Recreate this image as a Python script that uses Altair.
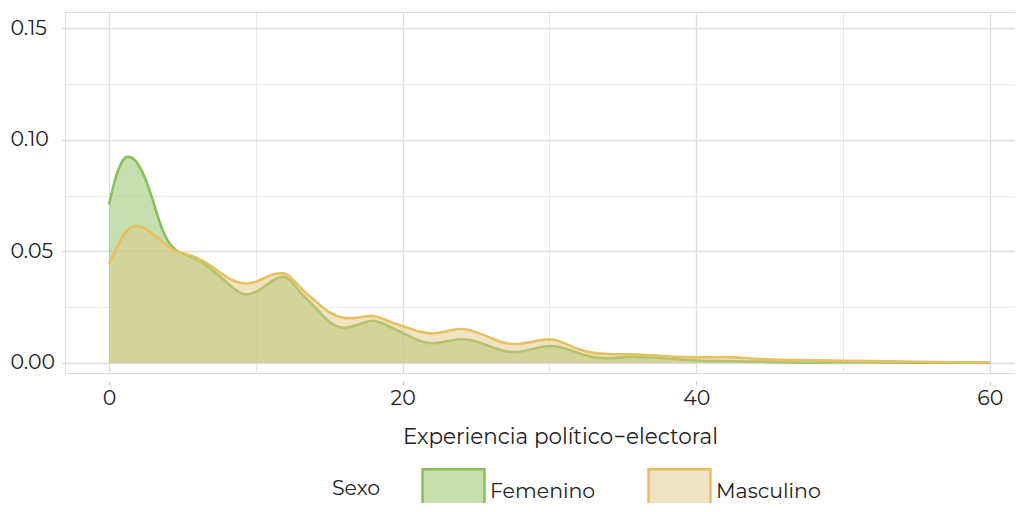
import altair as alt
import pandas as pd

fem_x = [0, 0.5, 1, 1.3, 1.6, 2, 2.5, 3, 3.5, 4, 4.5, 5, 6, 7, 8, 9, 10, 11, 11.7, 12.3, 13, 14, 15, 16, 17, 18, 19, 20, 21, 22, 23, 24, 25, 26, 27, 28, 29, 30, 31, 32, 33, 34, 35, 36, 38, 40, 42, 44, 46, 48, 50, 52, 55, 58, 60]
fem_y = [0.071, 0.084, 0.0912, 0.0923, 0.0917, 0.0888, 0.082, 0.0725, 0.0622, 0.0548, 0.0508, 0.049, 0.0462, 0.0418, 0.0362, 0.0312, 0.0318, 0.0362, 0.0385, 0.0372, 0.0318, 0.0252, 0.0185, 0.0158, 0.0172, 0.0189, 0.0166, 0.0135, 0.0103, 0.0088, 0.0097, 0.0106, 0.0096, 0.0073, 0.0053, 0.005, 0.0064, 0.0076, 0.0066, 0.0043, 0.0026, 0.0021, 0.0025, 0.0027, 0.002, 0.0011, 0.0008, 0.0006, 0.0003, 0.0002, 0.0003, 0.0003, 0.0001, 0.0001, 0.0001]

masc_x = [0, 0.5, 1, 1.5, 1.8, 2.2, 2.7, 3.2, 3.7, 4.2, 4.7, 5.2, 6, 7, 8, 9, 10, 11, 11.6, 12.2, 13, 14, 15, 16, 17, 18, 19, 20, 21, 22, 23, 24, 25, 26, 27, 28, 29, 30, 31, 32, 33, 34, 35, 36, 38, 40, 42, 44, 46, 48, 50, 52, 55, 58, 60]
masc_y = [0.0442, 0.0512, 0.0575, 0.0607, 0.0613, 0.0609, 0.0592, 0.0566, 0.054, 0.0515, 0.0498, 0.0488, 0.047, 0.0432, 0.0386, 0.0358, 0.0364, 0.0393, 0.0402, 0.0393, 0.034, 0.028, 0.0228, 0.0202, 0.0204, 0.021, 0.0188, 0.0165, 0.0143, 0.0132, 0.0142, 0.0152, 0.0138, 0.0112, 0.0089, 0.0086, 0.0097, 0.0106, 0.0089, 0.0061, 0.0045, 0.004, 0.0039, 0.0038, 0.003, 0.0025, 0.0026, 0.0019, 0.0014, 0.0012, 0.001, 0.0008, 0.0005, 0.0003, 0.0002]

groups = ["Femenino", "Masculino"]
fill_colors = ["rgba(139,193,93,0.5)", "rgba(224,199,132,0.5)"]
line_colors = ["#8bbf5a", "#e6c062"]

x_ticks = [0, 10, 20, 30, 40, 50, 60]
y_ticks = [0, 0.025, 0.05, 0.075, 0.1, 0.125, 0.15]

df = pd.concat([
    pd.DataFrame({"x": fem_x, "y": fem_y, "Sexo": groups[0]}),
    pd.DataFrame({"x": masc_x, "y": masc_y, "Sexo": groups[1]}),
])

FONT = "Montserrat, Open Sans, sans-serif"
FS = 20.5
minor_x = "datum.value % 20 != 0"
minor_y = "abs(datum.value*20 - round(datum.value*20)) > 0.01"

xscale = alt.Scale(domain=[-3, 61.71], nice=False, zero=False)
yscale = alt.Scale(domain=[-0.0045, 0.1572], nice=False, zero=False)

xenc = alt.X("x:Q", scale=xscale, axis=alt.Axis(
    values=x_ticks, title="Experiencia político−electoral",
    labelExpr="datum.value % 20 == 0 ? datum.label : ''",
    gridColor={"condition": {"test": minor_x, "value": "#e9e9e9"}, "value": "#dedede"},
    gridWidth={"condition": {"test": minor_x, "value": 1}, "value": 1.3},
    tickColor={"condition": {"test": minor_x, "value": "transparent"}, "value": "#cfcfcf"},
    domain=False, offset=8, tickSize=4, tickWidth=1.3, labelPadding=3,
    labelFontSize=FS, labelColor="#222222", titleFontSize=21.5, titleFontWeight="normal",
    titleColor="#222222", titlePadding=18, titleX=495, labelFont=FONT, titleFont=FONT,
))
yenc = alt.Y("y:Q", scale=yscale, axis=alt.Axis(
    values=y_ticks, title=None, format=".2f",
    labelExpr="abs(datum.value*20 - round(datum.value*20)) > 0.01 ? '' : datum.label",
    gridColor={"condition": {"test": minor_y, "value": "#ececec"}, "value": "#dedede"},
    gridWidth={"condition": {"test": minor_y, "value": 1}, "value": 1.3},
    tickColor={"condition": {"test": minor_y, "value": "transparent"}, "value": "#cfcfcf"},
    domain=False, tickSize=3, tickWidth=1.3, labelPadding=52, labelAlign="left",
    labelFontSize=FS, labelColor="#222222", labelFont=FONT,
))

fill_scale = alt.Scale(domain=groups, range=fill_colors)
legend = alt.Legend(
    title="Sexo", orient="none", legendX=267, legendY=447, direction="horizontal",
    titleOrient="left", titleAnchor="middle", titleBaseline="middle", titlePadding=40,
    titleFontSize=FS, titleFontWeight="normal", titleColor="#222222", titleFont=FONT,
    labelFont=FONT, labelFontSize=FS, labelColor="#222222",
    symbolType="M-1,-0.72H1V0.72H-1Z", symbolSize=3844, symbolStrokeWidth=2.5,
    symbolStrokeColor={"expr": "datum.value == 'Femenino' ? '#8bbf5a' : '#e6c062'"},
    labelOffset=4, columnPadding=47,
)

base = alt.Chart(df)
layers = []
for g, lc in zip(groups, line_colors):
    area = base.transform_filter(alt.datum.Sexo == g).mark_area(
        interpolate="natural"
    ).encode(x=xenc, y=yenc, fill=alt.Fill("Sexo:N", scale=fill_scale, legend=legend))
    line = base.transform_filter(alt.datum.Sexo == g).mark_line(
        interpolate="natural", strokeWidth=2.6, color=lc
    ).encode(x=xenc, y=yenc)
    layers += [area, line]

chart = alt.layer(*layers).properties(
    width=950, height=361,
    autosize=alt.AutoSizeParams(type="none"),
    padding={"left": 57, "top": 4, "right": 0, "bottom": 130},
).configure_view(stroke=None).configure(font=FONT)

chart.save("out.html", embed_options={"renderer": "svg", "actions": False})
